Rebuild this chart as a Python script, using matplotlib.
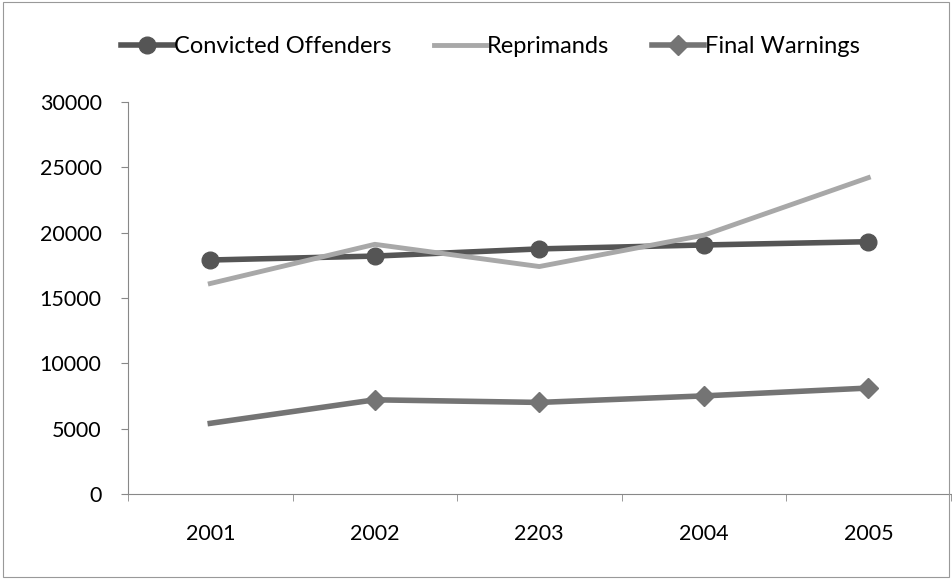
import numpy as np
import matplotlib.pyplot as plt
from matplotlib.patches import Rectangle
from matplotlib.legend_handler import HandlerLine2D

years = ['2001', '2002', '2203', '2004', '2005']
convicted = [17900, 18200, 18750, 19050, 19300]
reprimands = [16100, 19100, 17400, 19800, 24200]
final_warnings = [5400, 7200, 7000, 7500, 8100]

plt.rcParams['font.family'] = ['Lato', 'DejaVu Sans']


# excel puts the legend marker at the right end of the handle
class EndMarkerHandler(HandlerLine2D):
    def get_xdata(self, legend, xdescent, ydescent, width, height, fontsize):
        xdata = [-xdescent, -xdescent + width]
        return xdata, [-xdescent + width - 5]


fig = plt.figure(figsize=(9.52, 5.79), dpi=100)
ax = fig.add_axes([0.1345, 0.147, 0.864, 0.677])

x = np.arange(len(years))
l1, = ax.plot(x, convicted, color='#555555', lw=4, marker='o', ms=12,
              label='Convicted Offenders')
l2, = ax.plot(x, reprimands, color='#a8a8a8', lw=3.5, label='Reprimands')
l3, = ax.plot(x, final_warnings, color='#747474', lw=4, marker='D', ms=10,
              markevery=[1, 2, 3, 4], label='Final Warnings')

ax.set_xlim(-0.5, len(years) - 0.5)
ax.set_ylim(0, 30000)
ax.set_yticks(np.arange(0, 30001, 5000))
ax.set_xticks(x)
ax.set_xticklabels(years)
ax.set_xticks(np.arange(-0.5, len(years)), minor=True)
ax.tick_params(axis='x', which='major', length=0, pad=22, labelsize=15.5)
ax.tick_params(axis='x', which='minor', length=5, color='#888888', direction='out')
ax.tick_params(axis='y', length=5, color='#888888', pad=14, labelsize=15.5)
for s in ['top', 'right']:
    ax.spines[s].set_visible(False)
for s in ['left', 'bottom']:
    ax.spines[s].set_color('#888888')

h = EndMarkerHandler(numpoints=1)
fig.legend(handles=[l1, l2, l3], loc='center', bbox_to_anchor=(0.515, 0.92),
           ncol=3, frameon=False, fontsize=17, handlelength=2.2,
           handletextpad=0.05, columnspacing=1.8,
           handler_map={l1: h, l3: h})

fig.add_artist(Rectangle((0.003, 0.003), 0.994, 0.994, transform=fig.transFigure,
                         fill=False, edgecolor='#999999', lw=0.8))

fig.savefig('out.png', dpi=100)
